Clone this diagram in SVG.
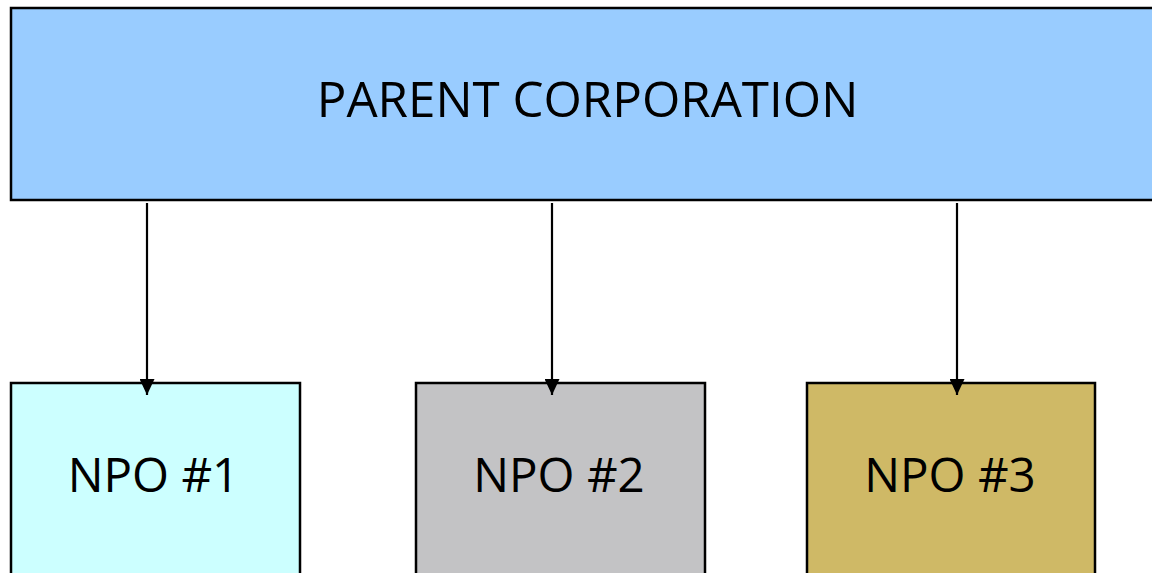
<svg xmlns="http://www.w3.org/2000/svg" width="1152" height="573" viewBox="0 0 1152 573">
  <style>
    .box { stroke: #000; stroke-width: 2.5; }
    .label { font-family: "Open Sans", "DejaVu Sans", sans-serif; fill: #000; text-anchor: middle; }
    .title { font-size: 49.3px; }
    .npo { font-size: 47.5px; }
    .link { stroke: #000; stroke-width: 2.2; fill: none; }
  </style>
  <defs>
    <marker id="arrow" markerWidth="16" markerHeight="15" refX="16" refY="7.5" orient="auto" markerUnits="userSpaceOnUse" viewBox="0 0 16 15">
      <path d="M0,0 L16,7.5 L0,15 Z" fill="#000"/>
    </marker>
  </defs>
  <rect width="1152" height="573" fill="#fff"/>

  <g id="parent">
    <rect class="box" x="11" y="8" width="1150" height="192" fill="#99ccff"/>
    <text class="label title" x="587.5" y="117">PARENT CORPORATION</text>
  </g>

  <g id="npo1">
    <rect class="box" x="11" y="383" width="289" height="200" fill="#ccffff"/>
    <text class="label npo" x="153.5" y="492">NPO #1</text>
  </g>

  <g id="npo2">
    <rect class="box" x="416" y="383" width="289" height="200" fill="#c3c3c5"/>
    <text class="label npo" x="559" y="492">NPO #2</text>
  </g>

  <g id="npo3">
    <rect class="box" x="807" y="383" width="288" height="200" fill="#cfb966"/>
    <text class="label npo" x="950" y="492">NPO #3</text>
  </g>

  <g id="connectors">
    <line class="link" x1="147" y1="203" x2="147" y2="395" marker-end="url(#arrow)"/>
    <line class="link" x1="552" y1="203" x2="552" y2="395" marker-end="url(#arrow)"/>
    <line class="link" x1="957" y1="203" x2="957" y2="395" marker-end="url(#arrow)"/>
  </g>
</svg>
